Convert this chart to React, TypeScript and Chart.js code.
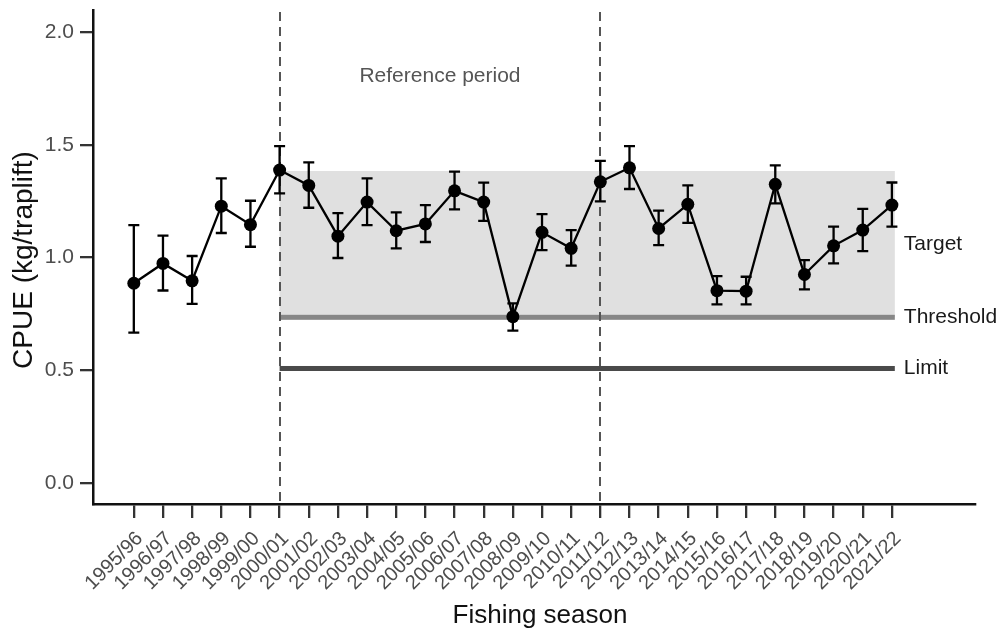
import React, { useEffect, useRef } from "react";
import { Chart, registerables } from "chart.js";

Chart.register(...registerables);

const seasons = [
  "1995/96", "1996/97", "1997/98", "1998/99", "1999/00", "2000/01", "2001/02",
  "2002/03", "2003/04", "2004/05", "2005/06", "2006/07", "2007/08", "2008/09",
  "2009/10", "2010/11", "2011/12", "2012/13", "2013/14", "2014/15", "2015/16",
  "2016/17", "2017/18", "2018/19", "2019/20", "2020/21", "2021/22",
];
const cpue = [
  0.886, 0.974, 0.897, 1.228, 1.146, 1.388, 1.32, 1.095, 1.246, 1.119, 1.149,
  1.296, 1.246, 0.738, 1.112, 1.041, 1.336, 1.398, 1.129, 1.236, 0.853, 0.851,
  1.325, 0.925, 1.052, 1.122, 1.233,
];
const upper = [
  1.144, 1.097, 1.007, 1.351, 1.252, 1.494, 1.422, 1.197, 1.351, 1.2, 1.233,
  1.381, 1.332, 0.797, 1.193, 1.122, 1.429, 1.494, 1.208, 1.32, 0.918, 0.915,
  1.409, 0.989, 1.137, 1.216, 1.333,
];
const lower = [
  0.667, 0.854, 0.795, 1.109, 1.048, 1.285, 1.221, 0.998, 1.144, 1.041, 1.069,
  1.214, 1.163, 0.676, 1.033, 0.964, 1.249, 1.304, 1.055, 1.154, 0.792, 0.792,
  1.24, 0.859, 0.974, 1.029, 1.137,
];
const yTicks = [0, 0.5, 1.0, 1.5, 2.0];
const targetValue = 1.384;
const thresholdValue = 0.735;
const limitValue = 0.508;
const refStartIndex = 5;
const refEndIndex = 16;
const bandEndIndex = 26.1;
const refLabelValue = 1.805;
const refLabel = "Reference period";
const xTitle = "Fishing season";
const yTitle = "CPUE (kg/traplift)";

const FONT = "'Liberation Sans', Arial, sans-serif";

const overlayPlugin = {
  id: "overlay",
  beforeDatasetsDraw(chart: any) {
    const { ctx, scales, chartArea } = chart;
    const x = scales.x;
    const y = scales.y;
    const x0 = x.getPixelForValue(refStartIndex);
    const x1 = x.getPixelForValue(bandEndIndex);
    ctx.save();
    // band
    ctx.fillStyle = "#e0e0e0";
    const yt = y.getPixelForValue(targetValue);
    const yth = y.getPixelForValue(thresholdValue);
    ctx.fillRect(x0, yt, x1 - x0, yth - yt);
    // threshold
    ctx.fillStyle = "#878787";
    ctx.fillRect(x0, yth - 2.5, x1 - x0, 5);
    // limit
    const yl = y.getPixelForValue(limitValue);
    ctx.fillStyle = "#4a4a4a";
    ctx.fillRect(x0, yl - 2.5, x1 - x0, 5);
    // dashed lines
    ctx.strokeStyle = "#555555";
    ctx.lineWidth = 2;
    ctx.setLineDash([9, 6]);
    [refStartIndex, refEndIndex].forEach((i) => {
      const px = Math.round(x.getPixelForValue(i));
      ctx.beginPath();
      ctx.moveTo(px, chartArea.top + 2);
      ctx.lineTo(px, chartArea.bottom);
      ctx.stroke();
    });
    ctx.setLineDash([]);
    // labels
    ctx.fillStyle = "#555555";
    ctx.font = `21px ${FONT}`;
    ctx.textAlign = "center";
    ctx.textBaseline = "middle";
    ctx.fillText(
      refLabel,
      (x.getPixelForValue(refStartIndex) + x.getPixelForValue(refEndIndex)) / 2,
      y.getPixelForValue(refLabelValue)
    );
    ctx.fillStyle = "#1a1a1a";
    ctx.textAlign = "left";
    const lx = x1 + 9;
    ctx.fillText("Target", lx, (yt + yth) / 2);
    ctx.fillText("Threshold", lx, yth);
    ctx.fillText("Limit", lx, yl);
    ctx.restore();
  },
  afterDatasetsDraw(chart: any) {
    const { ctx, scales } = chart;
    const x = scales.x;
    const y = scales.y;
    ctx.save();
    ctx.strokeStyle = "#000000";
    ctx.lineWidth = 2.3;
    cpue.forEach((_, i) => {
      const px = x.getPixelForValue(i);
      const pu = y.getPixelForValue(upper[i]);
      const pl = y.getPixelForValue(lower[i]);
      ctx.beginPath();
      ctx.moveTo(px, pu);
      ctx.lineTo(px, pl);
      ctx.moveTo(px - 5.5, pu);
      ctx.lineTo(px + 5.5, pu);
      ctx.moveTo(px - 5.5, pl);
      ctx.lineTo(px + 5.5, pl);
      ctx.stroke();
    });
    ctx.restore();
  },
  afterDraw(chart: any) {
    const { ctx, chartArea } = chart;
    ctx.save();
    ctx.fillStyle = "#111111";
    ctx.textAlign = "center";
    ctx.textBaseline = "alphabetic";
    ctx.font = `26px ${FONT}`;
    ctx.fillText(xTitle, (chartArea.left + chartArea.right) / 2 + 6, 623);
    ctx.textBaseline = "middle";
    ctx.font = `28px ${FONT}`;
    ctx.translate(24, 260);
    ctx.rotate(-Math.PI / 2);
    ctx.fillText(yTitle, 0, 0);
    ctx.restore();
  },
};

export default function App() {
  const ref = useRef<HTMLCanvasElement>(null);
  useEffect(() => {
    document.body.style.margin = "0";
    const canvas = ref.current!;
    const chart = new Chart(canvas, {
      type: "line",
      data: {
        datasets: [
          {
            data: cpue.map((v, i) => ({ x: i, y: v })),
            borderColor: "#000000",
            backgroundColor: "#000000",
            borderWidth: 2.3,
            pointRadius: 6.5,
            pointBorderWidth: 0,
            pointBackgroundColor: "#000000",
            tension: 0,
          },
        ],
      },
      options: {
        animation: false,
        responsive: false,
        maintainAspectRatio: false,
        layout: { padding: { top: 10, right: 28, left: 0, bottom: 0 } },
        plugins: {
          legend: { display: false },
          tooltip: { enabled: false },
        },
        scales: {
          x: {
            type: "linear",
            min: -1.4,
            max: 28.85,
            afterBuildTicks: (scale: any) => {
              scale.ticks = seasons.map((_, i) => ({ value: i }));
            },
            afterFit: (scale: any) => {
              scale.height = 124;
              scale.paddingLeft = 0;
              scale.paddingRight = 0;
            },
            ticks: {
              autoSkip: false,
              minRotation: 45,
              maxRotation: 45,
              color: "#4d4d4d",
              font: { family: FONT, size: 20 },
              padding: 9,
              labelOffset: 6,
              callback: (v: any) => seasons[v as number] ?? "",
            },
            grid: {
              drawOnChartArea: false,
              drawTicks: true,
              tickLength: 14,
              color: "#333333",
              lineWidth: 2.3,
            },
            border: { display: true, color: "#111111", width: 2.5 },
          },
          y: {
            type: "linear",
            min: -0.093,
            max: 2.098,
            afterBuildTicks: (scale: any) => {
              scale.ticks = yTicks.map((v) => ({ value: v }));
            },
            afterFit: (scale: any) => {
              scale.width = 93;
              scale.paddingTop = 0;
              scale.paddingBottom = 0;
            },
            ticks: {
              color: "#4d4d4d",
              font: { family: FONT, size: 21 },
              padding: 6,
              callback: (v: any) => Number(v).toFixed(1),
            },
            grid: {
              drawOnChartArea: false,
              drawTicks: true,
              tickLength: 13,
              color: "#333333",
              lineWidth: 2.3,
            },
            border: { display: true, color: "#111111", width: 2.5 },
          },
        },
      },
      plugins: [overlayPlugin],
    } as any);
    return () => chart.destroy();
  }, []);
  return (
    <div style={{ width: 1003, height: 628 }}>
      <canvas ref={ref} width={1003} height={628} style={{ display: "block" }} />
    </div>
  );
}
